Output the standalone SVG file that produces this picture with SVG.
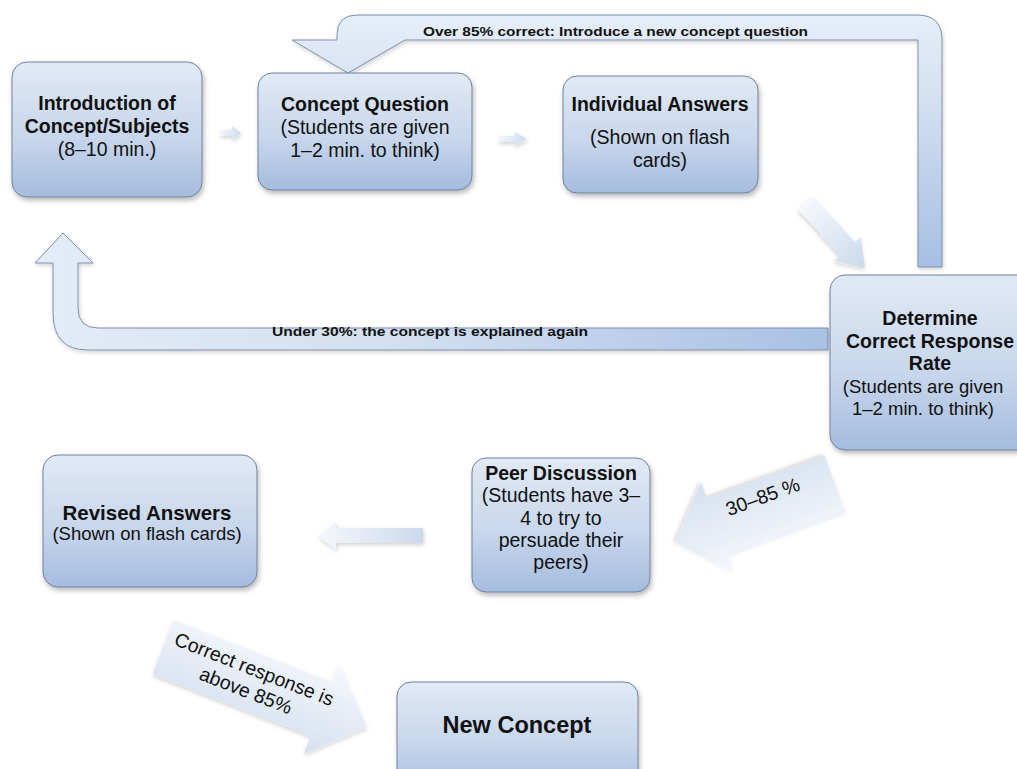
<svg xmlns="http://www.w3.org/2000/svg" width="1017" height="769" viewBox="0 0 1017 769">
<defs>
  <linearGradient id="nodeGrad" x1="0" y1="0" x2="0" y2="1">
    <stop offset="0" stop-color="#e1e9f5"/>
    <stop offset="0.55" stop-color="#c8d7ec"/>
    <stop offset="1" stop-color="#a4bcde"/>
  </linearGradient>
  <linearGradient id="topArrowGrad" gradientUnits="userSpaceOnUse" x1="0" y1="15" x2="0" y2="267">
    <stop offset="0" stop-color="#e6eef8"/>
    <stop offset="0.3" stop-color="#d6e2f2"/>
    <stop offset="1" stop-color="#a6bfe2"/>
  </linearGradient>
  <linearGradient id="uArrowGrad" gradientUnits="userSpaceOnUse" x1="35" y1="0" x2="828" y2="0">
    <stop offset="0" stop-color="#e3ecf7"/>
    <stop offset="0.45" stop-color="#d3e0f1"/>
    <stop offset="1" stop-color="#a9c1e4"/>
  </linearGradient>
  <linearGradient id="paleGrad" x1="0" y1="0" x2="1" y2="0">
    <stop offset="0" stop-color="#f5f8fc"/>
    <stop offset="1" stop-color="#ccd9ec"/>
  </linearGradient>
  <linearGradient id="bigPale" x1="0" y1="0" x2="0" y2="1">
    <stop offset="0" stop-color="#f6f8fc"/>
    <stop offset="1" stop-color="#d5e0ef"/>
  </linearGradient>
  <filter id="shadow" x="-10%" y="-10%" width="130%" height="140%">
    <feDropShadow dx="1.5" dy="3" stdDeviation="2.5" flood-color="#000" flood-opacity="0.28"/>
  </filter>
  <filter id="softShadow" x="-10%" y="-10%" width="130%" height="140%">
    <feDropShadow dx="1" dy="2" stdDeviation="2" flood-color="#000" flood-opacity="0.18"/>
  </filter>
</defs>
<style>
  .box { fill: url(#nodeGrad); stroke: #6f819e; stroke-width: 1; filter: url(#shadow); }
  .t { font-family: "Liberation Sans", Arial, sans-serif; fill: #111; text-anchor: middle; }
  .b { font-weight: bold; font-size: 19.5px; }
  .r { font-size: 19.5px; }
  .lbl { font-family: "Liberation Sans", Arial, sans-serif; font-weight: bold; font-size: 13px; fill: #111; }
  .bend { stroke: #7d90ad; stroke-width: 1; filter: url(#softShadow); }
  .pale { fill: url(#paleGrad); stroke: none; filter: url(#softShadow); }
</style>

<rect width="1017" height="769" fill="#ffffff"/>

<g id="connectors">
  <!-- top bent arrow: Determine -> Concept Question -->
  <path class="bend" fill="url(#topArrowGrad)" d="M 942 267 L 942 40 Q 942 15 917 15 L 357 15 Q 337 15 337 35 L 337 40 L 292 40 L 348 73 L 405 40 L 918 40 L 918 267 Z"/>
  <text class="lbl" x="423" y="35.5" textLength="385" lengthAdjust="spacingAndGlyphs">Over 85% correct: Introduce a new concept question</text>

  <!-- U arrow: Determine -> Introduction -->
  <path class="bend" fill="url(#uArrowGrad)" d="M 828 328 L 98 328 Q 78 328 78 308 L 78 263 L 93 263 L 63 233 L 35 263 L 53 263 L 53 313 Q 53 350 88 350 L 828 350 Z"/>
  <text class="lbl" x="272" y="336" textLength="316" lengthAdjust="spacingAndGlyphs">Under 30%: the concept is explained again</text>

  <!-- small arrows -->
  <polygon class="pale" points="220,130 232,130 232,126 241,133 232,140 232,136 220,136"/>
  <polygon class="pale" points="498,136 515,136 515,132 527,139 515,146 515,142 498,142"/>

  <!-- Individual Answers -> Determine -->
  <polygon class="pale" transform="translate(806,203) rotate(47.8)" points="0,-10 62,-10 62,-18 88,0 62,18 62,10 0,10"/>

  <!-- 30-85% arrow: Determine -> Peer Discussion -->
  <g transform="translate(835,485) rotate(160)">
    <polygon fill="url(#bigPale)" filter="url(#softShadow)" points="0,-31 125,-31 125,-48 170,0 125,48 125,31 0,31"/>
  </g>
  <text class="t r" transform="translate(765,503) rotate(-20)">30–85 %</text>

  <!-- Peer Discussion -> Revised Answers -->
  <polygon fill="url(#paleGrad)" filter="url(#softShadow)" points="423,528 336,528 336,522 318,536 336,550 336,543 423,543"/>

  <!-- Revised -> New Concept -->
  <g transform="translate(163,647) rotate(21.4)">
    <polygon fill="url(#bigPale)" filter="url(#softShadow)" points="0,-29 170,-29 170,-48 219,0 170,48 170,29 0,29"/>
    <text class="t r" x="93" y="-6">Correct response is</text>
    <text class="t r" x="93" y="17">above 85%</text>
  </g>
</g>

<g id="node-intro">
  <rect class="box" x="12" y="62" width="190" height="135" rx="15"/>
  <text class="t b" x="107" y="110">Introduction of</text>
  <text class="t b" x="107" y="133">Concept/Subjects</text>
  <text class="t r" x="107" y="156">(8–10 min.)</text>
</g>

<g id="node-concept-question">
  <rect class="box" x="258" y="73" width="214" height="117" rx="14"/>
  <text class="t b" x="365" y="111">Concept Question</text>
  <text class="t r" x="365" y="134">(Students are given</text>
  <text class="t r" x="365" y="157">1–2 min. to think)</text>
</g>

<g id="node-individual">
  <rect class="box" x="563" y="76" width="195" height="117" rx="14"/>
  <text class="t b" x="660" y="111">Individual Answers</text>
  <text class="t r" x="660" y="144">(Shown on flash</text>
  <text class="t r" x="660" y="167">cards)</text>
</g>

<g id="node-determine">
  <rect class="box" x="830" y="275" width="205" height="175" rx="15"/>
  <text class="t b" x="930" y="325">Determine</text>
  <text class="t b" x="930" y="348">Correct Response</text>
  <text class="t b" x="930" y="370">Rate</text>
  <text class="t r" x="923" y="393" style="font-size:18.5px">(Students are given</text>
  <text class="t r" x="923" y="415" style="font-size:18.5px">1–2 min. to think)</text>
</g>

<g id="node-peer">
  <rect class="box" x="472" y="458" width="178" height="134" rx="14"/>
  <text class="t b" x="561" y="480">Peer Discussion</text>
  <text class="t r" x="561" y="502">(Students have 3–</text>
  <text class="t r" x="561" y="525">4 to try to</text>
  <text class="t r" x="561" y="547">persuade their</text>
  <text class="t r" x="561" y="569">peers)</text>
</g>

<g id="node-revised">
  <rect class="box" x="43" y="455" width="214" height="132" rx="15"/>
  <text class="t b" x="147" y="520" style="font-size:20.5px">Revised Answers</text>
  <text class="t r" x="147" y="540" style="font-size:18.5px">(Shown on flash cards)</text>
</g>

<g id="node-new-concept">
  <rect class="box" x="397" y="682" width="241" height="110" rx="14"/>
  <text class="t b" x="517" y="733" style="font-size:23.5px">New Concept</text>
</g>
</svg>
